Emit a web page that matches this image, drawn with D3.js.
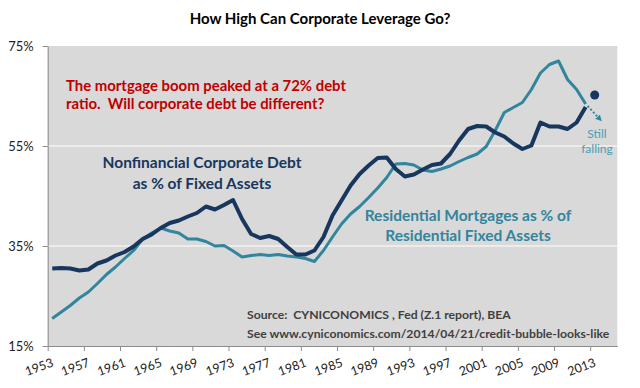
<!DOCTYPE html>
<html>
<head>
<meta charset="utf-8">
<script src="https://cdn.jsdelivr.net/npm/d3@7"></script>
<style>
  body { margin: 0; background: #fff; }
  text { font-family: Lato, "Open Sans", sans-serif; white-space: pre; }
</style>
</head>
<body>
<div id="chart"></div>
<script>
// data (values in %)
var years = d3.range(1953, 2013);
var corpDebt = [30.5, 30.6, 30.5, 30.1, 30.3, 31.5, 32.1, 33.1, 33.8, 34.9,
    36.4, 37.3, 38.6, 39.6, 40.1, 40.9, 41.6, 42.9, 42.3, 43.2,
    44.2, 40.4, 37.4, 36.6, 37.0, 36.4, 34.8, 33.3, 33.3, 34.1,
    36.8, 41.1, 44.1, 47.1, 49.4, 51.1, 52.6, 52.7, 50.4, 48.9,
    49.3, 50.3, 51.2, 51.5, 53.4, 56.1, 58.4, 59.0, 58.9, 57.7,
    56.9, 55.5, 54.4, 55.1, 59.7, 58.9, 58.9, 58.4, 59.7, 62.8];
var resMortgage = [20.5, 21.8, 23.1, 24.6, 25.8, 27.5, 29.3, 30.8, 32.5, 34.1,
    36.4, 37.6, 38.6, 38.0, 37.6, 36.4, 36.4, 35.9, 35.0, 35.1,
    34.0, 32.8, 33.1, 33.3, 33.1, 33.3, 33.0, 32.8, 32.5, 31.9,
    34.1, 36.8, 39.4, 41.4, 42.9, 44.7, 46.6, 48.7, 51.4, 51.5,
    51.2, 50.2, 49.9, 50.4, 51.0, 51.9, 52.7, 53.4, 54.9, 58.1,
    61.7, 62.7, 63.7, 66.3, 69.6, 71.3, 72.0, 68.3, 66.3, 63.4];
// latest corporate reading shown as a dot
var latestYear = [2013];
var latestCorp = [65.2];
var yTicks = [15, 35, 55, 75];
var xTickYears = d3.range(1953, 2014, 4);

var width = 640, height = 388;
var plot = {left: 47.7, right: 617.3, top: 46, bottom: 346};

var svg = d3.select("#chart").append("svg")
    .attr("width", width)
    .attr("height", height);

// category axis: each year is a 1-wide slot centred on the year
var x = d3.scaleLinear()
    .domain([1952.5, 2015.5])
    .range([plot.left, plot.right]);
var y = d3.scaleLinear()
    .domain([15, 75])
    .range([plot.bottom, plot.top]);

// plot background
svg.append("rect")
    .attr("x", plot.left)
    .attr("y", plot.top)
    .attr("width", plot.right - plot.left)
    .attr("height", plot.bottom - plot.top)
    .attr("fill", "#d9d9d9");

// gridlines
svg.selectAll(".grid")
    .data(yTicks.slice(1, 3))
    .enter().append("line")
    .attr("x1", plot.left)
    .attr("x2", plot.right)
    .attr("y1", function (d) { return y(d); })
    .attr("y2", function (d) { return y(d); })
    .attr("stroke", "#f2f2f2")
    .attr("stroke-width", 1.5);

// y axis
var yAxis = svg.append("g")
    .attr("transform", "translate(" + plot.left + ",0)")
    .call(d3.axisLeft(y).tickValues(yTicks).tickSize(5).tickSizeOuter(0)
        .tickFormat(function (d) { return d + "%"; }));
yAxis.select(".domain").attr("stroke", "#8c8c8c");
yAxis.selectAll(".tick line").attr("stroke", "#8c8c8c");
yAxis.selectAll("text")
    .attr("x", -14)
    .attr("font-size", 13)
    .attr("fill", "#222");

// x axis, ticks on slot boundaries
var xAxis = svg.append("g")
    .attr("transform", "translate(0," + plot.bottom + ")")
    .call(d3.axisBottom(x).tickValues(xTickYears.map(function (d) { return d - 0.5; }))
        .tickSize(5).tickSizeOuter(0)
        .tickFormat(function (d) { return d + 0.5; }));
xAxis.select(".domain").attr("stroke", "#8c8c8c");
xAxis.selectAll(".tick line").attr("stroke", "#8c8c8c");
xAxis.selectAll("text")
    .attr("y", 0)
    .attr("dy", 0)
    .attr("text-anchor", "end")
    .attr("transform", "translate(6,20) rotate(-20)")
    .attr("font-size", 12.5)
    .attr("fill", "#222");

var line = d3.line()
    .x(function (d, i) { return x(years[i]); })
    .y(function (d) { return y(d); });

svg.append("path")
    .datum(resMortgage)
    .attr("d", line)
    .attr("fill", "none")
    .attr("stroke", "#31859c")
    .attr("stroke-width", 3)
    .attr("stroke-linejoin", "round");

svg.append("path")
    .datum(corpDebt)
    .attr("d", line)
    .attr("fill", "none")
    .attr("stroke", "#17375e")
    .attr("stroke-width", 4)
    .attr("stroke-linejoin", "round");

svg.selectAll(".latest")
    .data(latestCorp)
    .enter().append("circle")
    .attr("cx", function (d, i) { return x(latestYear[i]); })
    .attr("cy", function (d) { return y(d); })
    .attr("r", 4.5)
    .attr("fill", "#17375e");

// dotted arrow from the last mortgage point
var last = resMortgage.length - 1;
var ax = x(years[last]), ay = y(resMortgage[last]);
svg.append("defs").append("marker")
    .attr("id", "arrow")
    .attr("viewBox", "0 0 10 10")
    .attr("refX", 5).attr("refY", 5)
    .attr("markerWidth", 3.2).attr("markerHeight", 3.2)
    .attr("orient", "auto")
    .append("path")
    .attr("d", "M0,0L10,5L0,10Z")
    .attr("fill", "#31859c");
svg.append("line")
    .attr("x1", ax + 2).attr("y1", ay + 2)
    .attr("x2", ax + 14).attr("y2", ay + 15)
    .attr("stroke", "#31859c")
    .attr("stroke-width", 2)
    .attr("stroke-dasharray", "2,2")
    .attr("marker-end", "url(#arrow)");

// texts
function addLines(lines, xPos, yPos, step, opts) {
    var t = svg.append("text")
        .attr("font-size", opts.size)
        .attr("font-weight", opts.weight || "bold")
        .attr("fill", opts.color)
        .attr("text-anchor", opts.anchor || "start");
    lines.forEach(function (s, i) {
        t.append("tspan").attr("x", xPos).attr("y", yPos + i * step).text(s);
    });
}

addLines(["How High Can Corporate Leverage Go?"], 320, 24, 0,
    {size: 15, color: "#000", anchor: "middle"});
addLines(["The mortgage boom peaked at a 72% debt",
    "ratio.  Will corporate debt be different?"], 66, 91, 18,
    {size: 14.9, color: "#c00000"});
addLines(["Nonfinancial Corporate Debt", "as % of Fixed Assets"], 202, 168, 21,
    {size: 15.5, color: "#17375e", anchor: "middle"});
addLines(["Residential Mortgages as % of", "Residential Fixed Assets"], 468, 221, 19.5,
    {size: 15.5, color: "#31859c", anchor: "middle"});
addLines(["Still", "falling"], 597, 138, 15,
    {size: 12, color: "#4a9fb5", anchor: "middle", weight: "normal"});
addLines(["Source:  CYNICONOMICS , Fed (Z.1 report), BEA",
    "See www.cyniconomics.com/2014/04/21/credit-bubble-looks-like"], 247, 319, 19,
    {size: 12.2, color: "#404040"});
</script>
</body>
</html>
